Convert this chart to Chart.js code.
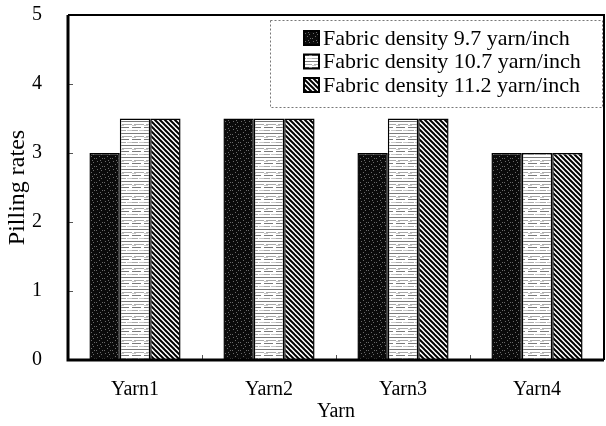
<!DOCTYPE html>
<html>
<head>
<meta charset="utf-8">
<script src="https://cdn.jsdelivr.net/npm/chart.js@4.4.1/dist/chart.umd.min.js"></script>
<style>
  html, body { margin: 0; padding: 0; background: #fff; }
  #wrap { width: 606px; height: 426px; }
</style>
</head>
<body>
<div id="wrap"><canvas id="pillingChart"></canvas></div>
<script>
const categories = ['Yarn1', 'Yarn2', 'Yarn3', 'Yarn4'];
const seriesLabels = [
    'Fabric density 9.7 yarn/inch',
    'Fabric density 10.7 yarn/inch',
    'Fabric density 11.2 yarn/inch'
];
const density97 = [3.0, 3.5, 3.0, 3.0];
const density107 = [3.5, 3.5, 3.5, 3.0];
const density112 = [3.5, 3.5, 3.5, 3.0];
const yMin = 0;
const yMax = 5;
const yStep = 1;

const serif = "'Liberation Serif', 'Times New Roman', serif";

// little tiles for the scanned-looking fills
function makeTile(w, h, draw) {
    const c = document.createElement('canvas');
    c.width = w;
    c.height = h;
    const g = c.getContext('2d');
    draw(g, w, h);
    return document.createElement('canvas').getContext('2d').createPattern(c, 'repeat');
}

const darkFill = makeTile(8, 8, (g, w, h) => {
    g.fillStyle = '#0b0b0b';
    g.fillRect(0, 0, w, h);
    g.fillStyle = '#6a6a6a';
    [[1, 1], [5, 2], [3, 4], [6, 6], [0, 6], [4, 0]].forEach(p => g.fillRect(p[0], p[1], 1, 1));
});

const lightFill = makeTile(12, 12, (g, w, h) => {
    g.fillStyle = '#ffffff';
    g.fillRect(0, 0, w, h);
    g.fillStyle = '#7a7a7a';
    g.fillRect(0, 1, 12, 1);
    g.fillRect(0, 7, 9, 1);
    g.fillStyle = '#aaaaaa';
    g.fillRect(2, 4, 10, 1);
    g.fillRect(0, 10, 6, 1);
    g.fillStyle = '#c8c8c8';
    g.fillRect(7, 10, 5, 1);
    g.fillRect(0, 5, 4, 1);
});

const hatchFill = makeTile(5, 5, (g, w, h) => {
    g.fillStyle = '#ffffff';
    g.fillRect(0, 0, w, h);
    g.strokeStyle = '#000000';
    g.lineWidth = 2;
    for (let k = -1; k <= 1; k++) {
        g.beginPath();
        g.moveTo(k * w - 1, -1);
        g.lineTo(k * w + w + 1, h + 1);
        g.stroke();
    }
});

const fills = [darkFill, lightFill, hatchFill];

// frame, inner tick marks and the boxed legend
const framePlugin = {
    id: 'frame',
    afterDraw(chart) {
        const ctx = chart.ctx;
        const a = chart.chartArea;
        const xs = chart.scales.x;
        const ys = chart.scales.y;
        ctx.save();

        ctx.strokeStyle = '#555';
        ctx.lineWidth = 1;
        ys.ticks.forEach(t => {
            const py = Math.round(ys.getPixelForValue(t.value)) + 0.5;
            ctx.beginPath();
            ctx.moveTo(a.left, py);
            ctx.lineTo(a.left + 5, py);
            ctx.stroke();
        });
        for (let i = 0; i < categories.length - 1; i++) {
            const px = Math.round((xs.getPixelForValue(i) + xs.getPixelForValue(i + 1)) / 2) + 0.5;
            ctx.beginPath();
            ctx.moveTo(px, a.bottom);
            ctx.lineTo(px, a.bottom - 5);
            ctx.stroke();
        }

        ctx.strokeStyle = '#000';
        ctx.lineWidth = 2;
        ctx.beginPath();
        ctx.moveTo(a.left, a.top);
        ctx.lineTo(a.right, a.top);
        ctx.lineTo(a.right, a.bottom);
        ctx.stroke();
        ctx.lineWidth = 3;
        ctx.beginPath();
        ctx.moveTo(a.left, a.top);
        ctx.lineTo(a.left, a.bottom);
        ctx.lineTo(a.right, a.bottom);
        ctx.stroke();

        // legend
        const bx = a.left + 202;
        const by = a.top + 5;
        const bw = a.right - 2 - bx;
        const bh = 87;
        ctx.fillStyle = '#fff';
        ctx.fillRect(bx, by, bw, bh);
        ctx.setLineDash([2, 2]);
        ctx.strokeStyle = '#777';
        ctx.lineWidth = 1;
        ctx.strokeRect(bx + 0.5, by + 0.5, bw, bh);
        ctx.setLineDash([]);

        ctx.font = '22px ' + serif;
        ctx.textBaseline = 'middle';
        chart.data.datasets.forEach((ds, i) => {
            const cy = by + 18 + i * 23.5;
            ctx.fillStyle = ds.backgroundColor;
            ctx.fillRect(bx + 34, cy - 7, 15, 14);
            ctx.strokeStyle = '#000';
            ctx.lineWidth = 2;
            ctx.strokeRect(bx + 34, cy - 7, 15, 14);
            ctx.fillStyle = '#000';
            ctx.fillText(ds.label, bx + 53, cy + 1);
        });
        ctx.restore();
    }
};

const seriesData = [density97, density107, density112];

new Chart(document.getElementById('pillingChart'), {
    type: 'bar',
    data: {
        labels: categories,
        datasets: seriesLabels.map((label, i) => ({
            label: label,
            data: seriesData[i],
            backgroundColor: fills[i],
            borderColor: '#000',
            borderWidth: 1.5,
            barPercentage: 1.0,
            categoryPercentage: 0.68
        }))
    },
    options: {
        responsive: true,
        maintainAspectRatio: false,
        animation: false,
        layout: {
            padding: { top: 15, right: 2, left: 0, bottom: 2 }
        },
        plugins: {
            legend: { display: false },
            tooltip: { enabled: false }
        },
        scales: {
            x: {
                grid: { display: false, drawTicks: false },
                border: { display: false },
                ticks: {
                    color: '#000',
                    font: { family: serif, size: 20 },
                    padding: 18
                },
                title: {
                    display: true,
                    text: 'Yarn',
                    color: '#000',
                    font: { family: serif, size: 20 },
                    padding: { top: 0, bottom: 0 }
                },
                afterFit(scale) {
                    scale.height = 64;
                }
            },
            y: {
                min: yMin,
                max: yMax,
                grid: { display: false, drawTicks: false },
                border: { display: false },
                ticks: {
                    stepSize: yStep,
                    color: '#000',
                    font: { family: serif, size: 20 },
                    padding: 26
                },
                title: {
                    display: true,
                    text: 'Pilling rates',
                    color: '#000',
                    font: { family: serif, size: 24 },
                    padding: { top: 3, bottom: 3 }
                },
                afterFit(scale) {
                    scale.width = 68;
                    scale.paddingTop = 0;
                    scale.paddingBottom = 0;
                }
            }
        }
    },
    plugins: [framePlugin]
});
</script>
</body>
</html>
